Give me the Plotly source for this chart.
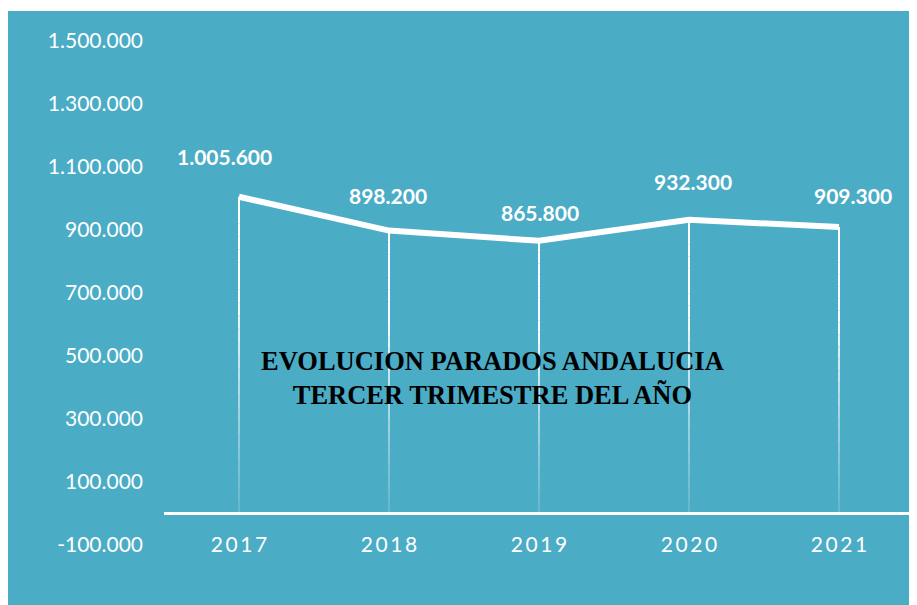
import plotly.graph_objects as go

YEARS = [2017, 2018, 2019, 2020, 2021]
PARADOS = [1005600, 898200, 865800, 932300, 909300]
Y_TICKS = [-100000, 100000, 300000, 500000, 700000, 900000, 1100000, 1300000, 1500000]
TITLE_LINES = ["EVOLUCION PARADOS ANDALUCIA", "TERCER TRIMESTRE DEL AÑO"]

TEAL = "#4BACC6"
W, H = 909, 597
ML, MR, MT, MB = 156, 3, 33, 60
PW, PH = W - ML - MR, H - MT - MB


def fmt(v):
    return f"{v:,}".replace(",", ".")


def spaced(s):
    return "\u2009".join(str(s))


fig = go.Figure()

# teal panel, thin white strip on top
fig.add_shape(type="rect", xref="paper", yref="paper", layer="below",
              x0=-ML / PW, x1=(W - ML) / PW,
              y0=-MB / PH, y1=(H - MB - 3) / PH,
              fillcolor=TEAL, line_width=0)

# drop lines, fading towards the baseline
N = 24
for x, v in zip(YEARS, PARADOS):
    for k in range(N):
        f = (k + 0.5) / N
        op = min(1.0, 0.15 + 1.3 * f ** 1.2)
        fig.add_shape(type="line", xref="x", yref="y", layer="below",
                      x0=x, x1=x, y0=v * k / N, y1=v * (k + 1) / N,
                      line=dict(color=f"rgba(255,255,255,{op:.2f})", width=2))

fig.add_trace(go.Scatter(
    x=YEARS, y=PARADOS, mode="lines",
    line=dict(color="white", width=6),
    hoverinfo="skip", showlegend=False,
))

NUDGE = [(-15, 40), (-1, 35), (1, 28), (4, 38), (14, 32)]
for (x, v), (dx, dy) in zip(zip(YEARS, PARADOS), NUDGE):
    fig.add_annotation(x=x, y=v, text=f"<b>{fmt(v)}</b>", showarrow=False,
                       xshift=dx, yshift=dy,
                       font=dict(family="Lato", size=21, color="white"))

fig.add_annotation(xref="paper", yref="paper", x=(484 - ML) / PW, y=(H - MB - 370) / PH,
                   xanchor="center", yanchor="middle",
                   text="<b>" + "<br>".join(TITLE_LINES) + "</b>", showarrow=False,
                   align="center",
                   font=dict(family="Liberation Serif", size=26.5, color="black"))

fig.update_xaxes(
    range=[YEARS[0] - 0.5, YEARS[-1] + 0.5],
    tickvals=YEARS, ticktext=[spaced(y) for y in YEARS],
    showgrid=False, zeroline=False, showline=False, ticks="",
    anchor="free", position=0.029,
    tickfont=dict(family="Lato", size=21, color="white"),
)
fig.update_yaxes(
    range=[-100000, 1500000],
    tickvals=Y_TICKS, ticktext=[fmt(v) for v in Y_TICKS],
    showgrid=False, zeroline=True, zerolinecolor="white", zerolinewidth=3,
    showline=False, ticks="", ticklabelstandoff=20,
    tickfont=dict(family="Lato", size=21, color="white"),
)
fig.update_layout(
    width=W, height=H,
    margin=dict(l=ML, r=MR, t=MT, b=MB),
    paper_bgcolor="white", plot_bgcolor="rgba(0,0,0,0)",
    showlegend=False,
)
fig.write_html("out.html")
